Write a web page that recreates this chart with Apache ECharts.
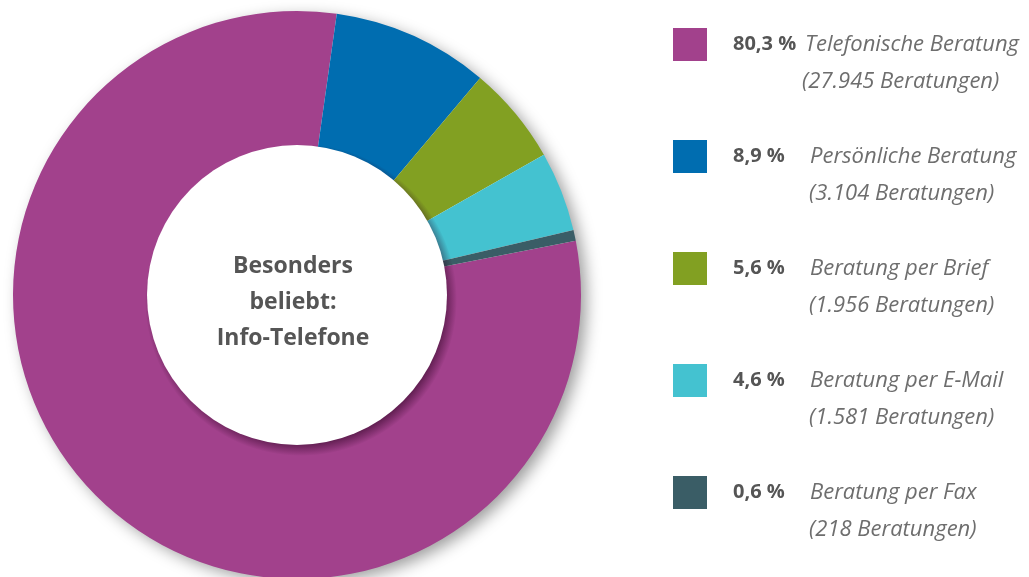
<!DOCTYPE html>
<html>
<head>
<meta charset="utf-8">
<script src="https://cdn.jsdelivr.net/npm/echarts@6/dist/echarts.min.js"></script>
<style>
  html, body { margin: 0; padding: 0; background: #ffffff; }
  #chart { width: 1029px; height: 577px; }
</style>
</head>
<body>
<div id="chart"></div>
<script>
// Beratungsarten und Anzahl der Beratungen
const categories = [
  'Telefonische Beratung',
  'Persönliche Beratung',
  'Beratung per Brief',
  'Beratung per E-Mail',
  'Beratung per Fax'
];
const counts = [27945, 3104, 1956, 1581, 218];
const percentLabels = ['80,3 %', '8,9 %', '5,6 %', '4,6 %', '0,6 %'];
const countLabels = ['27.945', '3.104', '1.956', '1.581', '218'];
const colors = ['#A2418C', '#006DB0', '#82A022', '#44C2D0', '#3A5D66'];
const centerLines = ['Besonders', 'beliebt:', 'Info-Telefone'];

const CX = 297, CY = 295, R_OUT = 284, R_IN = 150;
// Versatz und Breite des Schattens am Innenrand
const HALO_DX = 4, HALO_DY = 5, HALO_R = R_IN + 6;

const chart = echarts.init(document.getElementById('chart'));

const legendRich = {
  p: { fontFamily: 'Open Sans', fontWeight: 'bold', fontSize: 20, color: '#555555', width: 77, lineHeight: 37 },
  p1: { fontFamily: 'Open Sans', fontWeight: 'bold', fontSize: 20, color: '#555555', width: 72, lineHeight: 37 },
  n: { fontFamily: 'Open Sans', fontStyle: 'italic', fontSize: 22, color: '#6e6e6e', lineHeight: 37 },
  s: { width: 76, lineHeight: 37 },
  s1: { width: 69, lineHeight: 37 },
  e: { lineHeight: 37 }
};

chart.setOption({
  animation: false,
  color: colors,
  legend: {
    orient: 'vertical',
    left: 673,
    top: -11,
    padding: 0,
    itemWidth: 34,
    itemHeight: 33,
    itemGap: 1,
    icon: 'rect',
    selectedMode: false,
    data: categories,
    formatter: function (name) {
      const i = categories.indexOf(name);
      const pk = i === 0 ? 'p1' : 'p';
      const sk = i === 0 ? 's1' : 's';
      return '{e| }\n{' + pk + '|' + percentLabels[i] + '}{n|' + name + '}\n{' + sk + '|}{n|(' + countLabels[i] + ' Beratungen)}';
    },
    textStyle: { padding: [0, 0, 0, 21], lineHeight: 37, rich: legendRich }
  },
  graphic: {
    elements: [
      {
        // Schatten hinter dem Ring
        type: 'circle',
        z: 0,
        shape: { cx: CX, cy: CY, r: R_OUT - 1 },
        style: {
          fill: '#ffffff',
          shadowBlur: 16,
          shadowOffsetX: 6,
          shadowOffsetY: 5,
          shadowColor: 'rgba(0,0,0,0.4)'
        }
      },
      {
        // weicher Schatten der Innenfläche auf dem Ring (nach rechts unten versetzt)
        type: 'circle',
        z: 50,
        shape: { cx: CX + HALO_DX, cy: CY + HALO_DY, r: HALO_R },
        style: {
          fill: new echarts.graphic.RadialGradient(0.5, 0.5, 0.5, [
            { offset: 0, color: 'rgba(40,0,30,0.6)' },
            { offset: (R_IN - 8) / HALO_R, color: 'rgba(40,0,30,0.6)' },
            { offset: 1, color: 'rgba(40,0,30,0)' }
          ])
        }
      },
      {
        // weiße Innenfläche
        type: 'circle',
        z: 60,
        shape: { cx: CX, cy: CY, r: R_IN },
        style: { fill: '#ffffff' }
      },
      {
        type: 'text',
        z: 101,
        x: CX - 4,
        y: CY + 7,
        style: {
          text: centerLines.join('\n'),
          fontFamily: 'Open Sans',
          fontWeight: 'bold',
          fontSize: 23,
          lineHeight: 36,
          fill: '#555555',
          align: 'center',
          verticalAlign: 'middle'
        }
      }
    ]
  },
  series: [
    {
      type: 'pie',
      z: 2,
      center: [CX, CY],
      radius: [R_IN - 8, R_OUT],
      startAngle: 11,
      clockwise: true,
      label: { show: false },
      labelLine: { show: false },
      data: categories.map((name, i) => ({ name: name, value: counts[i] }))
    }
  ]
});
</script>
</body>
</html>
